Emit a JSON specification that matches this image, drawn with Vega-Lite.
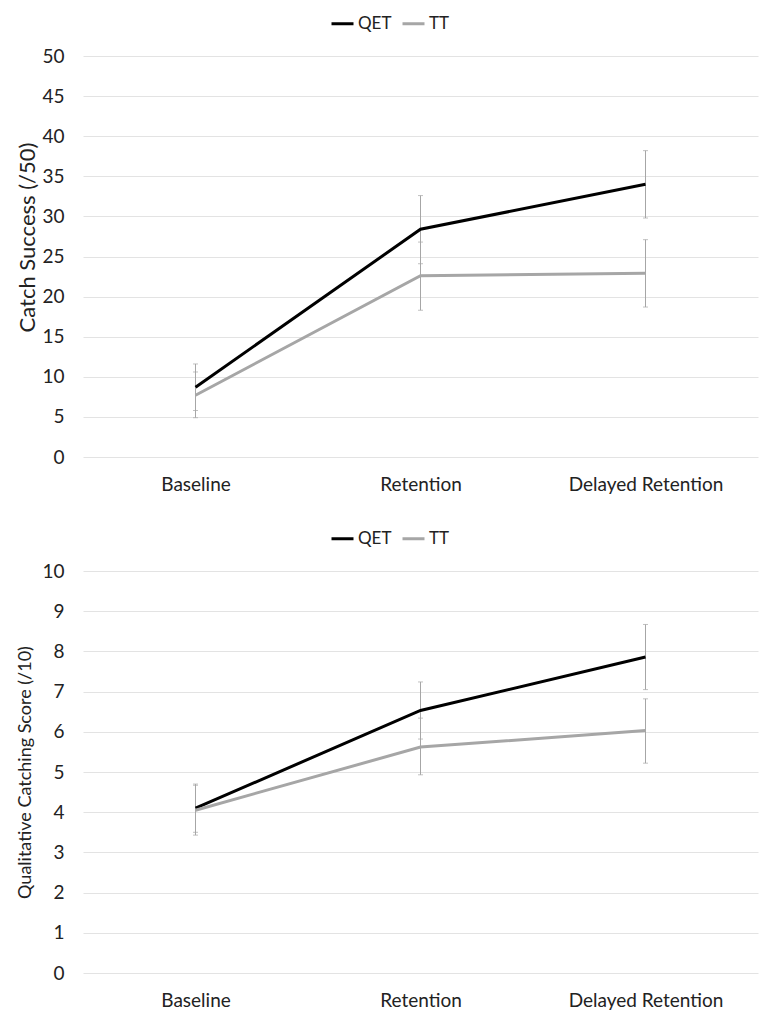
{
  "$schema": "https://vega.github.io/schema/vega-lite/v6.json",
  "padding": {"left": 16, "top": 11, "right": 5, "bottom": 5},
  "background": "white",
  "config": {
    "font": "Lato",
    "view": {"stroke": null},
    "axisY": {"domain": false, "ticks": false, "labelPadding": 19, "gridColor": "#e3e3e3", "gridWidth": 1, "labelFontSize": 19, "titleFontSize": 19, "titleFontWeight": "normal", "titlePadding": 2, "labelColor": "#222222", "titleColor": "#222222"},
    "axisX": {"domain": false, "ticks": false, "grid": false, "labelFontSize": 19, "labelPadding": 18, "labelAngle": 0, "labelColor": "#222222"},
    "legend": {"orient": "none", "direction": "horizontal", "labelFontSize": 17, "labelColor": "#222222", "symbolType": "stroke", "symbolStrokeWidth": 3, "symbolSize": 484, "labelOffset": 3, "columnPadding": 4}
  },
  "datasets": {
    "catch": [
      {"test": "Baseline", "group": "QET", "mean": 8.7, "lo": 5.8, "hi": 11.6},
      {"test": "Retention", "group": "QET", "mean": 28.4, "lo": 24.1, "hi": 32.6},
      {"test": "Delayed Retention", "group": "QET", "mean": 34.0, "lo": 29.8, "hi": 38.2},
      {"test": "Baseline", "group": "TT", "mean": 7.7, "lo": 4.9, "hi": 10.6},
      {"test": "Retention", "group": "TT", "mean": 22.6, "lo": 18.3, "hi": 26.8},
      {"test": "Delayed Retention", "group": "TT", "mean": 22.9, "lo": 18.7, "hi": 27.1}
    ],
    "qual": [
      {"test": "Baseline", "group": "QET", "mean": 4.1, "lo": 3.5, "hi": 4.7},
      {"test": "Retention", "group": "QET", "mean": 6.53, "lo": 5.82, "hi": 7.24},
      {"test": "Delayed Retention", "group": "QET", "mean": 7.86, "lo": 7.05, "hi": 8.67},
      {"test": "Baseline", "group": "TT", "mean": 4.05, "lo": 3.43, "hi": 4.67},
      {"test": "Retention", "group": "TT", "mean": 5.62, "lo": 4.93, "hi": 6.34},
      {"test": "Delayed Retention", "group": "TT", "mean": 6.03, "lo": 5.22, "hi": 6.82}
    ]
  },
  "spacing": 32,
  "resolve": {"scale": {"color": "independent"}},
  "vconcat": [
    {
      "width": 675,
      "height": 401,
      "data": {"name": "catch"},
      "encoding": {
        "x": {"field": "test", "type": "nominal", "title": null, "scale": {"type": "point", "domain": ["Baseline", "Retention", "Delayed Retention"], "padding": 0.5}}
      },
      "layer": [
        {
          "mark": {"type": "rule", "color": "#a6a6a6", "strokeWidth": 1},
          "encoding": {
            "y": {"field": "lo", "type": "quantitative", "title": "Catch Success (/50)", "scale": {"domain": [0, 50], "nice": false}, "axis": {"values": [0, 5, 10, 15, 20, 25, 30, 35, 40, 45, 50], "titleY": 181, "titleFontSize": 22}},
            "y2": {"field": "hi"}
          }
        },
        {
          "mark": {"type": "tick", "color": "#a6a6a6", "thickness": 1, "size": 5},
          "encoding": {"y": {"field": "lo", "type": "quantitative", "title": "Catch Success (/50)"}}
        },
        {
          "mark": {"type": "tick", "color": "#a6a6a6", "thickness": 1, "size": 5},
          "encoding": {"y": {"field": "hi", "type": "quantitative", "title": "Catch Success (/50)"}}
        },
        {
          "mark": {"type": "line", "strokeWidth": 3},
          "encoding": {
            "y": {"field": "mean", "type": "quantitative", "title": "Catch Success (/50)"},
            "color": {"field": "group", "type": "nominal", "scale": {"domain": ["QET", "TT"], "range": ["#000000", "#a6a6a6"]}, "legend": {"title": null, "legendX": 247, "legendY": -45}}
          }
        }
      ]
    },
    {
      "width": 675,
      "height": 402,
      "data": {"name": "qual"},
      "encoding": {
        "x": {"field": "test", "type": "nominal", "title": null, "scale": {"type": "point", "domain": ["Baseline", "Retention", "Delayed Retention"], "padding": 0.5}}
      },
      "layer": [
        {
          "mark": {"type": "rule", "color": "#a6a6a6", "strokeWidth": 1},
          "encoding": {
            "y": {"field": "lo", "type": "quantitative", "title": "Qualitative Catching Score (/10)", "scale": {"domain": [0, 10], "nice": false}, "axis": {"values": [0, 1, 2, 3, 4, 5, 6, 7, 8, 9, 10], "titleFontSize": 18, "titlePadding": 7}},
            "y2": {"field": "hi"}
          }
        },
        {
          "mark": {"type": "tick", "color": "#a6a6a6", "thickness": 1, "size": 5},
          "encoding": {"y": {"field": "lo", "type": "quantitative", "title": "Qualitative Catching Score (/10)"}}
        },
        {
          "mark": {"type": "tick", "color": "#a6a6a6", "thickness": 1, "size": 5},
          "encoding": {"y": {"field": "hi", "type": "quantitative", "title": "Qualitative Catching Score (/10)"}}
        },
        {
          "mark": {"type": "line", "strokeWidth": 3},
          "encoding": {
            "y": {"field": "mean", "type": "quantitative", "title": "Qualitative Catching Score (/10)"},
            "color": {"field": "group", "type": "nominal", "scale": {"domain": ["QET", "TT"], "range": ["#000000", "#a6a6a6"]}, "legend": {"title": null, "legendX": 247, "legendY": -45}}
          }
        }
      ]
    }
  ]
}
